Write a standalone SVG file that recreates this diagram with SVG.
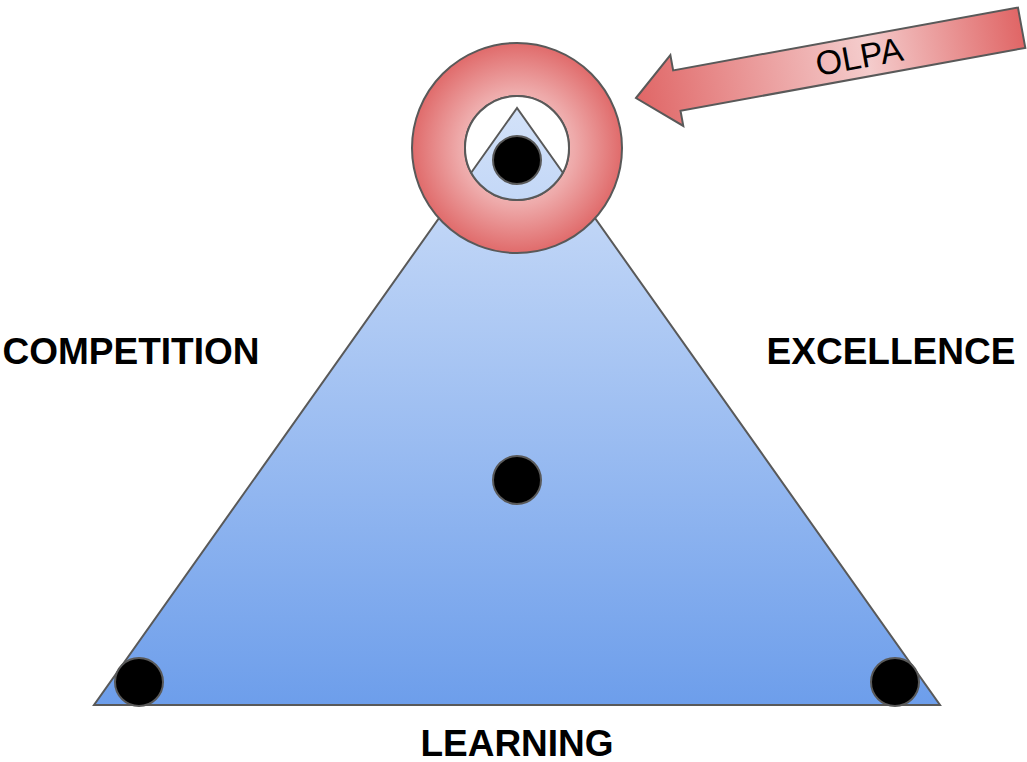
<svg xmlns="http://www.w3.org/2000/svg" width="1027" height="762" viewBox="0 0 1027 762">
<defs>
<linearGradient id="triG" x1="0" y1="108" x2="0" y2="705" gradientUnits="userSpaceOnUse">
<stop offset="0" stop-color="#d3e2f9"/>
<stop offset="1" stop-color="#6d9eeb"/>
</linearGradient>
<radialGradient id="ringG" cx="517" cy="148" r="105" gradientUnits="userSpaceOnUse">
<stop offset="0" stop-color="#fbe6e6"/>
<stop offset="0.55" stop-color="#eeaaaa"/>
<stop offset="1" stop-color="#e06b6b"/>
</radialGradient>
<linearGradient id="arrG" x1="0" y1="0" x2="392" y2="0" gradientUnits="userSpaceOnUse">
<stop offset="0" stop-color="#e06666"/>
<stop offset="0.6" stop-color="#f4cccc"/>
<stop offset="1" stop-color="#e06666"/>
</linearGradient>
<style>
.ln{stroke:#595959;stroke-width:2}
.dot{fill:#000;stroke:#595959;stroke-width:2}
.lbl{font-family:"Liberation Sans",Arial,sans-serif;font-weight:bold;font-size:37px;fill:#000}
</style>
</defs>
<g id="triangle">
<polygon class="ln" points="517,108 94,705 940,705" fill="url(#triG)"/>
</g>
<g id="ring">
<path class="ln" fill="url(#ringG)" fill-rule="evenodd" d="M412,148 a105,105 0 1,0 210,0 a105,105 0 1,0 -210,0 Z M465,148 a52,52 0 1,1 104,0 a52,52 0 1,1 -104,0 Z"/>
</g>
<g id="top-inner">
<clipPath id="innerClip"><circle cx="517" cy="148" r="52"/></clipPath>
<circle cx="517" cy="148" r="52" fill="#fff"/>
<polygon class="ln" points="517,108 94,705 940,705" fill="url(#triG)" clip-path="url(#innerClip)"/>
<circle cx="517" cy="148" r="52" fill="none" class="ln"/>
</g>
<g id="dot-top"><circle class="dot" cx="517" cy="160" r="24"/></g>
<g id="dot-center"><circle class="dot" cx="517" cy="480" r="24"/></g>
<g id="dot-left"><circle class="dot" cx="139" cy="682" r="24"/></g>
<g id="dot-right"><circle class="dot" cx="895" cy="682" r="24"/></g>
<g id="olpa-arrow" transform="translate(636,98) rotate(-10.33)">
<polygon class="ln" fill="url(#arrG)" points="0,0 41.5,-36 41.5,-20.5 392,-20.5 392,20.5 41.5,20.5 41.5,36"/>
<text x="227" y="11" text-anchor="middle" font-family="Liberation Sans, Arial, sans-serif" font-size="34" fill="#000">OLPA</text>
</g>
<g id="labels">
<text class="lbl" x="131" y="364" text-anchor="middle">COMPETITION</text>
<text class="lbl" x="891" y="364" text-anchor="middle">EXCELLENCE</text>
<text class="lbl" x="517" y="756" text-anchor="middle">LEARNING</text>
</g>
</svg>
